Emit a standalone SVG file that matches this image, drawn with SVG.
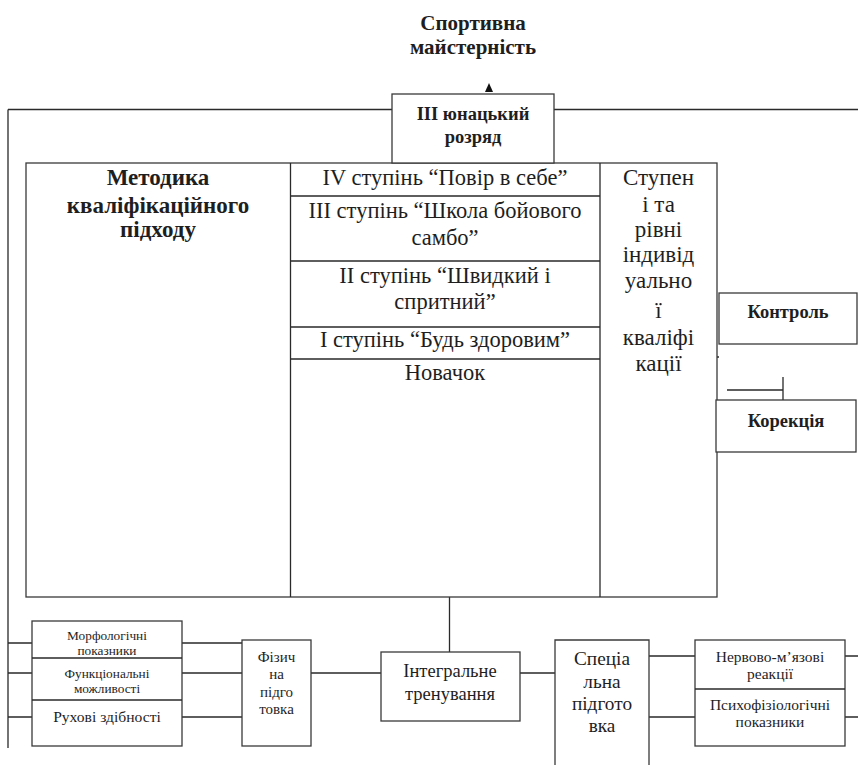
<svg xmlns="http://www.w3.org/2000/svg" width="858" height="765" viewBox="0 0 858 765">
<style>
.b{fill:#fff;stroke:#3a3a3a;stroke-width:1.3}
.l{fill:none;stroke:#2a2a2a;stroke-width:1.3}
text{font-family:"Liberation Serif","Times New Roman",serif;fill:#1e1e1e;text-anchor:middle}
.bd{font-weight:bold}
</style>
<rect width="858" height="765" fill="#fff"/>
<g id="connectors">
<path class="l" d="M8,109.5 H392 M554,109.5 H858 M8,109.5 V748"/>
<polygon points="489,83 485,92 493,92" fill="#111"/>
<path class="l" d="M8,643 H32 M8,673 H32 M8,717 H32 M182,643 H242 M182,673 H242 M182,717 H242 M311,673 H381 M449.5,597 V656 M520,673 H555 M649,656 H695 M649,717 H695 M845,656 H858 M845,717 H858 M704,357 H719 M727,390 H783 M783,377 V400"/>
</g>
<g id="title">
<text class="bd" x="473" y="30" font-size="21">Спортивна</text>
<text class="bd" x="473" y="54" font-size="21">майстерність</text>
</g>
<g id="table">
<rect class="b" x="26" y="163" width="691" height="434"/>
<path class="l" d="M290.5,163 V597 M600,163 V597 M290.5,196 H600 M290.5,261 H600 M290.5,327 H600 M290.5,359 H600"/>
</g>
<g id="rozriad">
<rect class="b" x="392" y="94" width="162" height="69"/>
<text class="bd" x="473" y="120" font-size="18.5">III юнацький</text>
<text class="bd" x="473" y="143" font-size="18.5">розряд</text>
</g>
<g id="metodyka">
<text class="bd" x="158" y="185" font-size="23">Методика</text>
<text class="bd" x="158" y="213" font-size="23">кваліфікаційного</text>
<text class="bd" x="158" y="237" font-size="23">підходу</text>
</g>
<g id="stupeni">
<text x="445" y="185" font-size="22.5">IV ступінь “Повір в себе”</text>
<text x="445" y="218" font-size="22.5">III ступінь “Школа бойового</text>
<text x="445" y="245" font-size="22.5">самбо”</text>
<text x="445" y="283" font-size="22.5">II ступінь “Швидкий і</text>
<text x="445" y="309" font-size="22.5">спритний”</text>
<text x="445" y="347" font-size="22.5">I ступінь “Будь здоровим”</text>
<text x="445" y="380" font-size="22.5">Новачок</text>
</g>
<g id="rivni">
<text x="658.5" y="185" font-size="23">Ступен</text>
<text x="658.5" y="212" font-size="23">і та</text>
<text x="658.5" y="237" font-size="23">рівні</text>
<text x="658.5" y="262" font-size="23">індивід</text>
<text x="658.5" y="288" font-size="23">уально</text>
<text x="658.5" y="318" font-size="23">ї</text>
<text x="658.5" y="345" font-size="23">кваліфі</text>
<text x="658.5" y="371" font-size="23">кації</text>
</g>
<g id="kontrol">
<rect class="b" x="719" y="293" width="138" height="51"/>
<text class="bd" x="788" y="318" font-size="18.5">Контроль</text>
</g>
<g id="korekcia">
<rect class="b" x="716" y="400" width="140" height="52"/>
<text class="bd" x="786" y="427" font-size="18.5">Корекція</text>
</g>
<g id="pokaznyky">
<rect class="b" x="32" y="621" width="150" height="125"/>
<path class="l" d="M32,658 H182 M32,700 H182"/>
<text x="107" y="640" font-size="13.3">Морфологічні</text>
<text x="107" y="655" font-size="13.3">показники</text>
<text x="107" y="678" font-size="13.3">Функціональні</text>
<text x="107" y="693" font-size="13.3">можливості</text>
<text x="107" y="722" font-size="15.6">Рухові здібності</text>
</g>
<g id="fizychna">
<rect class="b" x="242" y="640" width="69" height="106"/>
<text x="276.5" y="662" font-size="15">Фізич</text>
<text x="276.5" y="679" font-size="15">на</text>
<text x="276.5" y="696.5" font-size="15">підго</text>
<text x="276.5" y="714" font-size="15">товка</text>
</g>
<g id="integralne">
<rect class="b" x="381" y="652" width="139" height="69"/>
<text x="450" y="677" font-size="18.5">Інтегральне</text>
<text x="450" y="700" font-size="18.5">тренування</text>
</g>
<g id="specialna">
<path class="b" d="M555,767 V640 H649 V767"/>
<text x="602" y="665" font-size="19.3">Спеціа</text>
<text x="602" y="688" font-size="19.3">льна</text>
<text x="602" y="710" font-size="19.3">підгото</text>
<text x="602" y="732" font-size="19.3">вка</text>
</g>
<g id="nervovi">
<rect class="b" x="695" y="640" width="150" height="106"/>
<path class="l" d="M695,689 H845"/>
<text x="770" y="662" font-size="15.5">Нервово-м’язові</text>
<text x="770" y="679" font-size="15.5">реакції</text>
<text x="770" y="710" font-size="15.5">Психофізіологічні</text>
<text x="770" y="727" font-size="15.5">показники</text>
</g>
</svg>
